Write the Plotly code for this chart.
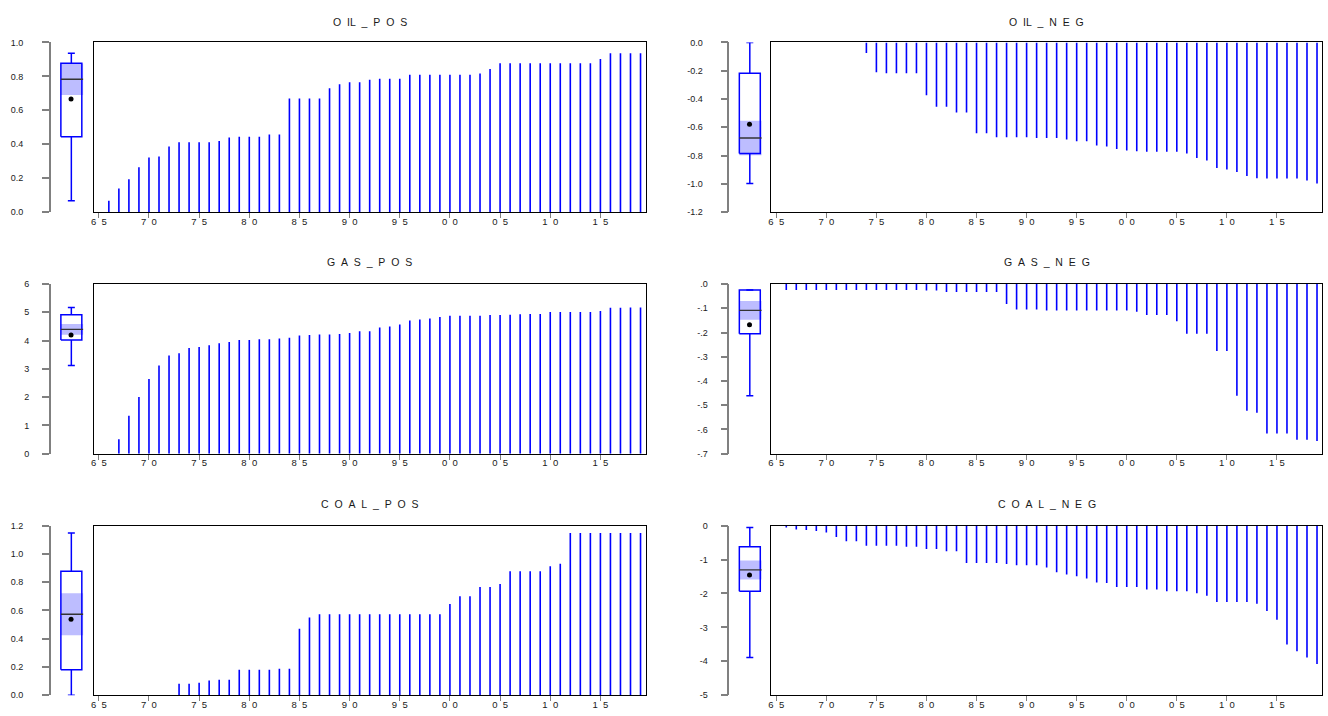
import numpy as np
import plotly.graph_objects as go

# ---------------------------------------------------------------- data
YEARS = list(range(1966, 2020))

OIL_POS = [0.066, 0.139, 0.193, 0.264, 0.322, 0.328, 0.386, 0.411, 0.411, 0.411,
           0.411, 0.419, 0.440, 0.444, 0.444, 0.444, 0.458, 0.458, 0.670, 0.670,
           0.670, 0.670, 0.730, 0.753, 0.766, 0.766, 0.780, 0.786, 0.786, 0.786,
           0.809, 0.809, 0.809, 0.809, 0.809, 0.809, 0.809, 0.817, 0.844, 0.878,
           0.878, 0.878, 0.878, 0.878, 0.878, 0.878, 0.878, 0.878, 0.878, 0.903,
           0.936, 0.936, 0.936, 0.936]

OIL_NEG = [0.0, 0.0, 0.0, 0.0, 0.0, 0.0, 0.0, 0.0, -0.075, -0.210,
           -0.217, -0.217, -0.217, -0.217, -0.373, -0.454, -0.454, -0.496, -0.496, -0.643,
           -0.643, -0.671, -0.671, -0.671, -0.671, -0.676, -0.676, -0.676, -0.687, -0.699,
           -0.699, -0.729, -0.736, -0.753, -0.764, -0.769, -0.774, -0.774, -0.774, -0.774,
           -0.785, -0.818, -0.836, -0.888, -0.899, -0.916, -0.944, -0.960, -0.962, -0.962,
           -0.962, -0.962, -0.976, -0.997]

GAS_POS = [0.0, 0.513, 1.340, 2.004, 2.640, 3.122, 3.472, 3.554, 3.740, 3.775,
           3.833, 3.903, 3.950, 4.020, 4.020, 4.043, 4.043, 4.078, 4.101, 4.183,
           4.194, 4.218, 4.218, 4.229, 4.264, 4.334, 4.334, 4.462, 4.497, 4.567,
           4.707, 4.742, 4.777, 4.835, 4.882, 4.882, 4.882, 4.882, 4.905, 4.905,
           4.917, 4.928, 4.940, 4.940, 5.010, 5.010, 5.010, 5.010, 5.010, 5.045,
           5.161, 5.161, 5.173, 5.173]

GAS_NEG = [-0.0245, -0.0245, -0.0245, -0.0245, -0.0245, -0.0245, -0.0245, -0.0245, -0.0245, -0.0245,
           -0.0245, -0.0245, -0.0245, -0.0245, -0.027, -0.027, -0.033, -0.033, -0.033, -0.033,
           -0.033, -0.033, -0.082, -0.105, -0.105, -0.105, -0.109, -0.109, -0.109, -0.109,
           -0.109, -0.109, -0.109, -0.109, -0.109, -0.114, -0.128, -0.128, -0.128, -0.154,
           -0.205, -0.205, -0.205, -0.276, -0.276, -0.461, -0.523, -0.531, -0.617, -0.617,
           -0.617, -0.643, -0.643, -0.648]

COAL_POS = [0.0, 0.0, 0.0, 0.0, 0.0, 0.0, 0.0, 0.081, 0.081, 0.088,
            0.104, 0.109, 0.109, 0.181, 0.181, 0.181, 0.181, 0.188, 0.188, 0.471,
            0.550, 0.573, 0.573, 0.573, 0.573, 0.573, 0.573, 0.573, 0.573, 0.573,
            0.573, 0.573, 0.573, 0.573, 0.645, 0.701, 0.701, 0.766, 0.766, 0.787,
            0.877, 0.877, 0.877, 0.877, 0.912, 0.931, 1.147, 1.147, 1.147, 1.147,
            1.147, 1.147, 1.147, 1.147]

COAL_NEG = [-0.058, -0.116, -0.126, -0.155, -0.203, -0.338, -0.464, -0.464, -0.590, -0.590,
            -0.590, -0.590, -0.620, -0.620, -0.687, -0.687, -0.754, -0.754, -1.103, -1.103,
            -1.103, -1.103, -1.132, -1.170, -1.170, -1.170, -1.238, -1.373, -1.441, -1.489,
            -1.557, -1.673, -1.692, -1.809, -1.809, -1.809, -1.886, -1.886, -1.934, -1.934,
            -1.934, -1.992, -2.070, -2.253, -2.253, -2.253, -2.253, -2.302, -2.515, -2.776,
            -3.501, -3.704, -3.888, -4.081]

TITLES = ["O\u2007IL\u2007_\u2007P\u2007O\u2007S", "O\u2007IL\u2007_\u2007N\u2007E\u2007G",
          "G\u2007A\u2007S\u2007_\u2007P\u2007O\u2007S", "G\u2007A\u2007S\u2007_\u2007N\u2007E\u2007G",
          "C\u2007O\u2007A\u2007L\u2007_\u2007P\u2007O\u2007S", "C\u2007O\u2007A\u2007L\u2007_\u2007N\u2007E\u2007G"]

X_TICKS = [1965, 1970, 1975, 1980, 1985, 1990, 1995, 2000, 2005, 2010, 2015]
X_TICK_LABELS = ["6\u20075", "7\u20070", "7\u20075", "8\u20070", "8\u20075", "9\u20070",
                 "9\u20075", "0\u20070", "0\u20075", "1\u20070", "1\u20075"]

OIL_POS_TICKS = [0.0, 0.2, 0.4, 0.6, 0.8, 1.0]
OIL_POS_LABELS = ["0.0", "0.2", "0.4", "0.6", "0.8", "1.0"]
OIL_NEG_TICKS = [-1.2, -1.0, -0.8, -0.6, -0.4, -0.2, 0.0]
OIL_NEG_LABELS = ["-1.2", "-1.0", "-0.8", "-0.6", "-0.4", "-0.2", "0.0"]
GAS_POS_TICKS = [0, 1, 2, 3, 4, 5, 6]
GAS_POS_LABELS = ["0", "1", "2", "3", "4", "5", "6"]
GAS_NEG_TICKS = [-0.7, -0.6, -0.5, -0.4, -0.3, -0.2, -0.1, 0.0]
GAS_NEG_LABELS = ["-.7", "-.6", "-.5", "-.4", "-.3", "-.2", "-.1", ".0"]
COAL_POS_TICKS = [0.0, 0.2, 0.4, 0.6, 0.8, 1.0, 1.2]
COAL_POS_LABELS = ["0.0", "0.2", "0.4", "0.6", "0.8", "1.0", "1.2"]
COAL_NEG_TICKS = [-5, -4, -3, -2, -1, 0]
COAL_NEG_LABELS = ["-5", "-4", "-3", "-2", "-1", "0"]

# ---------------------------------------------------------------- layout geometry (pixels)
W, H = 1328, 716
FONT = "Liberation Sans, Arial, sans-serif"
TEXT = "#1a1a1a"
BLUE = "#0000ff"
SHADE = "#bdbdff"
GREY = "#808080"

COLS = [dict(axis=48, frame=(91, 644)), dict(axis=728, frame=(770, 1322))]
ROWS = [dict(top=38, bottom=210, title=17), dict(top=283, bottom=455, title=261),
        dict(top=528, bottom=700, title=506)]

PANELS = [
    dict(values=OIL_POS, ticks=OIL_POS_TICKS, labels=OIL_POS_LABELS, yrange=[0, 1.0], row=0, col=0, standoff=17),
    dict(values=OIL_NEG, ticks=OIL_NEG_TICKS, labels=OIL_NEG_LABELS, yrange=[-1.2, 0], row=0, col=1, standoff=16),
    dict(values=GAS_POS, ticks=GAS_POS_TICKS, labels=GAS_POS_LABELS, yrange=[0, 6], row=1, col=0, standoff=11),
    dict(values=GAS_NEG, ticks=GAS_NEG_TICKS, labels=GAS_NEG_LABELS, yrange=[-0.7, 0], row=1, col=1, standoff=11),
    dict(values=COAL_POS, ticks=COAL_POS_TICKS, labels=COAL_POS_LABELS, yrange=[0, 1.2], row=2, col=0, standoff=17),
    dict(values=COAL_NEG, ticks=COAL_NEG_TICKS, labels=COAL_NEG_LABELS, yrange=[-5, 0], row=2, col=1, standoff=11),
]

# box geometry, in pixels measured from the box-axis line
BOX_L, BOX_R, BOX_C, CAP_HALF, SHADE_R = 10, 31, 20.5, 3.5, 32.3


def fx(px):
    return px / W


def fy(py):
    return 1 - py / H


def box_stats(vals):
    a = np.asarray(vals, dtype=float)
    q1, med, q3 = np.quantile(a, [0.25, 0.5, 0.75], method="hazen")
    iqr = q3 - q1
    lo_fence, hi_fence = q1 - 1.5 * iqr, q3 + 1.5 * iqr
    w_lo = a[a >= lo_fence].min()
    w_hi = a[a <= hi_fence].max()
    half = 1.57 * iqr / np.sqrt(a.size)
    return dict(q1=q1, med=med, q3=q3, lo=w_lo, hi=w_hi, mean=a.mean(),
                ci_lo=med - half, ci_hi=med + half)


fig = go.Figure()
layout = dict(width=W, height=H, margin=dict(l=0, r=0, t=0, b=0),
              paper_bgcolor="white", plot_bgcolor="rgba(0,0,0,0)",
              showlegend=False, font=dict(family=FONT, size=9, color=TEXT),
              annotations=[])

for i, p in enumerate(PANELS):
    col, row = COLS[p["col"]], ROWS[p["row"]]
    km, kb = 2 * i + 1, 2 * i + 2
    xm = "x" if km == 1 else f"x{km}"
    ym = "y" if km == 1 else f"y{km}"
    xb, yb = f"x{kb}", f"y{kb}"
    ydom = [fy(row["bottom"]), fy(row["top"])]

    # main spike panel
    layout["xaxis" if km == 1 else f"xaxis{km}"] = dict(
        domain=[fx(col["frame"][0]), fx(col["frame"][1])], range=[1964.5, 2019.5],
        anchor=ym, showline=True, linecolor="black", linewidth=1.3, mirror=True,
        showgrid=False, zeroline=False, ticks="outside", ticklen=5, tickwidth=1.3,
        tickcolor=GREY, tickvals=X_TICKS, ticktext=X_TICK_LABELS, ticklabelstandoff=-5,
        tickfont=dict(size=9.5, family=FONT, color=TEXT))
    layout["yaxis" if km == 1 else f"yaxis{km}"] = dict(
        domain=ydom, range=p["yrange"], anchor=xm, showline=True, linecolor="black",
        linewidth=1.3, mirror=True, showgrid=False, zeroline=False,
        showticklabels=False, ticks="")

    xs, ys = [], []
    for yr, v in zip(YEARS, p["values"]):
        xs += [yr, yr, None]
        ys += [0, v, None]
    fig.add_trace(go.Scatter(x=xs, y=ys, mode="lines", line=dict(color=BLUE, width=1.6),
                             xaxis=xm, yaxis=ym, hoverinfo="skip"))

    # box-plot panel
    span = col["frame"][0] - col["axis"]
    layout[f"xaxis{kb}"] = dict(domain=[fx(col["axis"]), fx(col["frame"][0])],
                                range=[0, span], anchor=yb, visible=False)
    layout[f"yaxis{kb}"] = dict(
        domain=ydom, range=p["yrange"], anchor=xb, showline=True, linecolor=GREY,
        linewidth=1.5, showgrid=False, zeroline=False, ticks="outside", ticklen=7,
        tickwidth=1.5, tickcolor=GREY, tickvals=p["ticks"], ticktext=p["labels"],
        ticklabelstandoff=p["standoff"], tickfont=dict(size=9, family=FONT, color=TEXT))

    s = box_stats(p["values"])
    # median confidence band
    fig.add_trace(go.Scatter(x=[BOX_L, SHADE_R, SHADE_R, BOX_L, BOX_L],
                             y=[s["ci_lo"], s["ci_lo"], s["ci_hi"], s["ci_hi"], s["ci_lo"]],
                             mode="lines", fill="toself", fillcolor=SHADE, line=dict(width=0),
                             xaxis=xb, yaxis=yb, hoverinfo="skip"))
    # box outline
    fig.add_trace(go.Scatter(x=[BOX_L, BOX_R, BOX_R, BOX_L, BOX_L],
                             y=[s["q1"], s["q1"], s["q3"], s["q3"], s["q1"]],
                             mode="lines", line=dict(color=BLUE, width=1.5),
                             xaxis=xb, yaxis=yb, hoverinfo="skip"))
    # whiskers and caps
    wx = [BOX_C, BOX_C, None, BOX_C, BOX_C, None,
          BOX_C - CAP_HALF, BOX_C + CAP_HALF, None, BOX_C - CAP_HALF, BOX_C + CAP_HALF]
    wy = [s["q3"], s["hi"], None, s["q1"], s["lo"], None,
          s["hi"], s["hi"], None, s["lo"], s["lo"]]
    fig.add_trace(go.Scatter(x=wx, y=wy, mode="lines", line=dict(color=BLUE, width=1.5),
                             xaxis=xb, yaxis=yb, hoverinfo="skip"))
    # median
    fig.add_trace(go.Scatter(x=[BOX_L, SHADE_R], y=[s["med"], s["med"]], mode="lines",
                             line=dict(color="#333333", width=1.3),
                             xaxis=xb, yaxis=yb, hoverinfo="skip"))
    # mean
    fig.add_trace(go.Scatter(x=[BOX_C - 0.3], y=[s["mean"]], mode="markers",
                             marker=dict(color="black", size=5, symbol="circle"),
                             xaxis=xb, yaxis=yb, hoverinfo="skip"))

    layout["annotations"].append(dict(
        text=TITLES[i], xref="paper", yref="paper",
        x=fx((col["frame"][0] + col["frame"][1]) / 2), y=fy(row["title"]),
        xanchor="center", yanchor="middle", showarrow=False,
        font=dict(size=10.5, family=FONT, color=TEXT)))

fig.update_layout(**layout)
fig.write_html("out.html")
